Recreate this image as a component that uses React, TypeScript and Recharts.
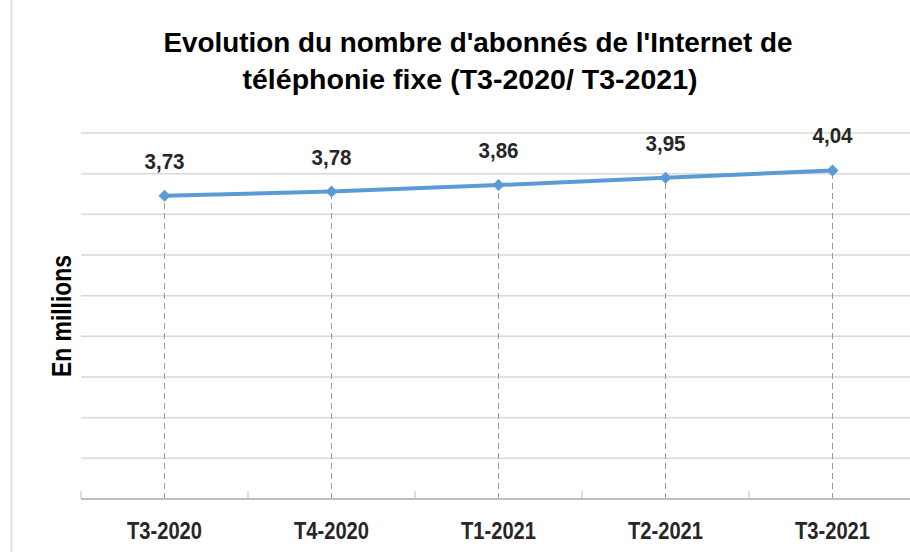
import React from "react";
import { LineChart, Line, XAxis, YAxis, CartesianGrid, LabelList, ReferenceLine } from "recharts";

const categories = ["T3-2020", "T4-2020", "T1-2021", "T2-2021", "T3-2021"];
const values = [3.73, 3.78, 3.86, 3.95, 4.04];
const valueLabels = ["3,73", "3,78", "3,86", "3,95", "4,04"];
const yTicks = [0, 0.5, 1, 1.5, 2, 2.5, 3, 3.5, 4, 4.5];
const titleLines = ["Evolution du nombre d'abonnés de l'Internet de", "téléphonie fixe (T3-2020/ T3-2021)"];
const yLabel = "En millions";

const data = categories.map((c, i) => ({ cat: c, v: values[i], lbl: valueLabels[i] }));

const CW = 920;
const CH = 552;
const M = { top: 133, right: 4, bottom: 23, left: 81 };
const XH = 30;
const AXIS_Y = CH - M.bottom - XH;
const BW = (CW - M.left - M.right) / categories.length;
const FONT = "'Liberation Sans', Arial, sans-serif";

const Tick = (props: any) => {
  const { x, payload, index } = props;
  return (
    <g>
      <line x1={x - BW / 2} x2={x - BW / 2} y1={AXIS_Y - 8} y2={AXIS_Y} stroke="#bfbfbf" strokeWidth={1} />
      {index === categories.length - 1 && (
        <line x1={x + BW / 2} x2={x + BW / 2} y1={AXIS_Y - 8} y2={AXIS_Y} stroke="#bfbfbf" strokeWidth={1} />
      )}
      <text
        x={x}
        y={AXIS_Y + 40}
        textAnchor="middle"
        fontFamily={FONT}
        fontWeight="bold"
        fontSize={24}
        fill="#262626"
        textLength={75}
        lengthAdjust="spacingAndGlyphs"
      >
        {payload.value}
      </text>
    </g>
  );
};

const EmptyTick = () => <g />;

const Diamond = (props: any) => {
  const { cx, cy } = props;
  if (cx == null || cy == null) return null;
  const r = 6;
  return <polygon points={`${cx},${cy - r} ${cx + r},${cy} ${cx},${cy + r} ${cx - r},${cy}`} fill="#5B9BD5" />;
};

const ValLabel = (props: any) => {
  const { x, y, value } = props;
  return (
    <text
      x={x}
      y={y - 27}
      textAnchor="middle"
      fontFamily={FONT}
      fontWeight="bold"
      fontSize={22}
      fill="#262626"
      textLength={40}
      lengthAdjust="spacingAndGlyphs"
    >
      {value}
    </text>
  );
};

export default function App() {
  return (
    <div style={{ position: "absolute", left: 0, top: 0, width: 910, height: 552, overflow: "hidden", background: "#fff" }}>
      <LineChart width={CW} height={CH} data={data} margin={M}>
        <CartesianGrid vertical={false} stroke="#d9d9d9" strokeWidth={1.5} />
        <XAxis
          dataKey="cat"
          height={XH}
          axisLine={{ stroke: "#bfbfbf", strokeWidth: 2 }}
          tickLine={false}
          tick={<Tick />}
          interval={0}
          padding={{ left: BW / 2, right: BW / 2 }}
        />
        <YAxis domain={[0, 4.5]} ticks={yTicks} width={0} tick={<EmptyTick />} axisLine={false} tickLine={false} />
        {data.map((d) => (
          <ReferenceLine
            key={d.cat}
            segment={[{ x: d.cat, y: 0 }, { x: d.cat, y: d.v }]}
            stroke="#9a9a9a"
            strokeDasharray="6 4"
            strokeWidth={1}
          />
        ))}
        <Line
          dataKey="v"
          stroke="#5B9BD5"
          strokeWidth={4}
          dot={<Diamond />}
          activeDot={false}
          isAnimationActive={false}
        >
          <LabelList dataKey="lbl" content={<ValLabel />} />
        </Line>
      </LineChart>
      <svg width={910} height={552} style={{ position: "absolute", left: 0, top: 0, pointerEvents: "none" }}>
        <line x1={11.5} x2={11.5} y1={0} y2={552} stroke="#d9d9d9" strokeWidth={1.5} />
        <text x={478} y={52} textAnchor="middle" fontFamily={FONT} fontWeight="bold" fontSize={28} fill="#000" textLength={629} lengthAdjust="spacingAndGlyphs">
          {titleLines[0]}
        </text>
        <text x={470} y={89} textAnchor="middle" fontFamily={FONT} fontWeight="bold" fontSize={28} fill="#000" textLength={455} lengthAdjust="spacingAndGlyphs">
          {titleLines[1]}
        </text>
        <text
          x={62}
          y={316}
          textAnchor="middle"
          dominantBaseline="central"
          transform="rotate(-90, 62, 316)"
          fontFamily={FONT}
          fontWeight="bold"
          fontSize={27}
          fill="#000"
          textLength={122}
          lengthAdjust="spacingAndGlyphs"
        >
          {yLabel}
        </text>
      </svg>
    </div>
  );
}
